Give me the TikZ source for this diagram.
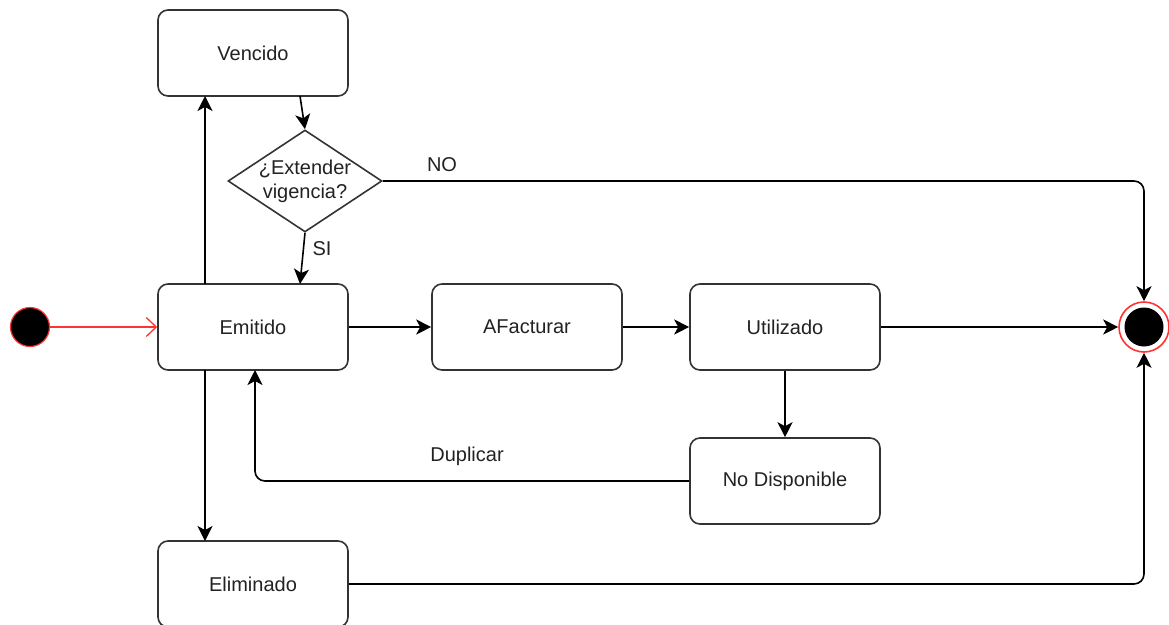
\documentclass[tikz,border=0pt]{standalone}
\usepackage{fontspec}
\setmainfont{Liberation Sans}
\usetikzlibrary{shapes.geometric,arrows.meta}
\definecolor{ured}{HTML}{FF3333}
\definecolor{utext}{HTML}{222222}
\tikzset{
  state/.style={draw=black!80, line width=1.6pt, rounded corners=10pt, minimum width=190pt, minimum height=86pt, inner sep=0pt, font=\fontsize{20}{24}\selectfont, text=utext, fill=white},
  flow/.style={draw=black, line width=1.6pt, -{Stealth[length=15pt,width=15pt,inset=4pt]}, rounded corners=10pt},
  lbl/.style={font=\fontsize{20}{24}\selectfont, inner sep=0pt, text=utext},
}
\begin{document}
\begin{tikzpicture}[x=1pt,y=-1pt]
\useasboundingbox (0,0) rectangle (1169,624);
\node[state] (venc) at (253,53) {Vencido};
\node[diamond, draw=black!80, line width=1.6pt, minimum width=154pt, minimum height=102pt, inner sep=0pt] (dia) at (305,181) {};
\node[lbl, align=center] (diat) at (dia) {¿Extender\\vigencia?};
\node[state] (emit) at (253,327) {Emitido};
\node[state] (afac) at (527,327) {AFacturar};
\node[state] (util) at (785,327) {Utilizado};
\node[state] (nodi) at (785,481) {No Disponible};
\node[state] (elim) at (253,584) {Eliminado};
\node[circle, draw=ured, fill=black, line width=1.2pt, minimum size=39pt, inner sep=0pt] (start) at (30,327) {};
\node[circle, draw=ured, fill=white, line width=1.6pt, minimum size=50pt, inner sep=0pt] (end) at (1144,327) {};
\node[circle, fill=black, minimum size=39pt, inner sep=0pt] (endin) at (end) {};

\coordinate (vb) at (300,96);
\coordinate (et) at (300,284);
\coordinate (eu) at (205,284);
\coordinate (vu) at (205,96);
\coordinate (ed) at (205,370);
\coordinate (elt) at (205,541);
\coordinate (eb) at (255,370);

\draw[draw=ured, line width=1.3pt, -{Straight Barb[length=10pt,width=19pt]}] (start) -- (emit.west);
\draw[flow] (vb) -- (dia.north);
\draw[flow] (dia.south) -- (et);
\draw[flow] (eu) -- (vu);
\draw[flow] (ed) -- (elt);
\draw[flow] (emit.east) -- (afac.west);
\draw[flow] (afac.east) -- (util.west);
\draw[flow] (util.east) -- (end.west);
\draw[flow] (util.south) -- (nodi.north);
\draw[flow] (nodi.west) -| (eb);
\draw[flow] (dia.east) -| (end.north);
\draw[flow] (elim.east) -| (end.south);

\node[lbl] (no) at (442,165) {NO};
\node[lbl] (si) at (322,249) {SI};
\node[lbl] (dup) at (467,456) {Duplicar};
\end{tikzpicture}
\end{document}
